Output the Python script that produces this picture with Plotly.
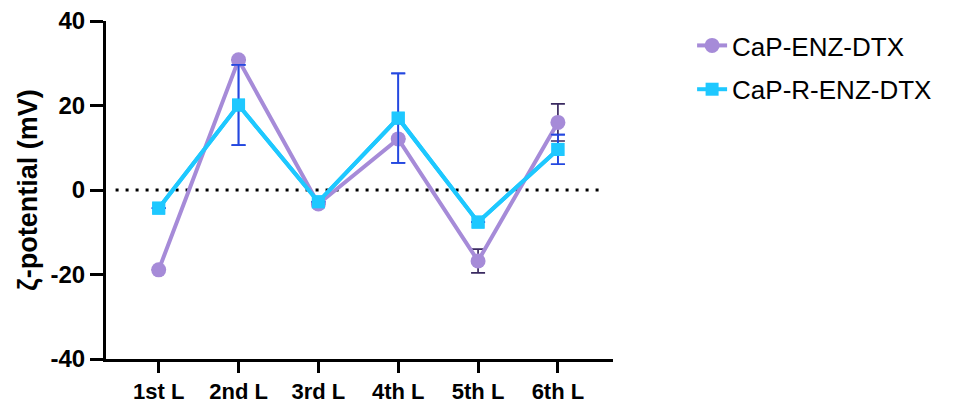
import plotly.graph_objects as go

categories = ["1st L", "2nd L", "3rd L", "4th L", "5th L", "6th L"]
enz_dtx = [-18.9, 30.8, -3.3, 12.1, -16.8, 16.0]
enz_dtx_err = [0, 0, 0, 0, 2.8, 4.4]
r_enz_dtx = [-4.3, 20.1, -2.8, 17.0, -7.6, 9.6]
r_enz_dtx_err = [0, 9.5, 0, 10.6, 0, 3.5]
y_ticks = [-40, -20, 0, 20, 40]
y_ticktext = ["-40", "-20", "0", "20", "40"]

font_fam = "Liberation Sans, Arial, sans-serif"
xs = list(range(len(categories)))

PURPLE = "#a68bd8"
CYAN = "#1ec8ff"

fig = go.Figure()
fig.add_trace(go.Scatter(
    x=xs, y=r_enz_dtx, name="CaP-R-ENZ-DTX", mode="lines+markers",
    line=dict(color=CYAN, width=4),
    marker=dict(symbol="square", size=13, color=CYAN),
    error_y=dict(type="data", array=r_enz_dtx_err, visible=True,
                 color="#2448e0", thickness=1.7, width=7),
    showlegend=False,
))
fig.add_trace(go.Scatter(
    x=xs, y=enz_dtx, name="CaP-ENZ-DTX", mode="lines+markers",
    line=dict(color=PURPLE, width=4),
    marker=dict(symbol="circle", size=15, color=PURPLE),
    error_y=dict(type="data", array=enz_dtx_err, visible=True,
                 color="#3a2a60", thickness=1.7, width=7),
    legendgroup="a",
))
fig.add_trace(go.Scatter(
    x=xs, y=r_enz_dtx, name="CaP-R-ENZ-DTX", mode="lines+markers",
    line=dict(color=CYAN, width=4),
    marker=dict(symbol="square", size=13, color=CYAN),
    hoverinfo="skip",
    error_y=dict(type="data", array=r_enz_dtx_err, visible=True,
                 color="#2448e0", thickness=1.7, width=7),
    legendgroup="b",
))

fig.add_shape(type="line", xref="x", yref="y", x0=-0.54, x1=5.57, y0=0, y1=0,
              line=dict(color="black", width=3, dash="3px,7px"), layer="below")

fig.update_layout(
    width=963, height=403,
    margin=dict(l=106, r=350, t=21, b=44),
    paper_bgcolor="white", plot_bgcolor="white",
    font=dict(family=font_fam, color="black"),
    legend=dict(x=1.156, y=0.997, xanchor="left", yanchor="top",
                font=dict(size=26, family=font_fam),
                traceorder="grouped", tracegroupgap=7,
                bgcolor="rgba(0,0,0,0)"),
)
fig.update_xaxes(
    range=[-0.66, 5.69], tickmode="array", tickvals=xs, ticktext=categories,
    showline=True, linecolor="black", linewidth=3, ticks="outside",
    ticklen=11, tickwidth=3, tickcolor="black", showgrid=False, zeroline=False,
    tickfont=dict(size=22, family=font_fam, weight="bold"), automargin=False,
)
fig.update_yaxes(
    range=[-40, 40], tickmode="array", tickvals=y_ticks, ticktext=y_ticktext,
    showline=True, linecolor="black", linewidth=3, ticks="outside",
    ticklen=13, tickwidth=3, tickcolor="black", showgrid=False, zeroline=False,
    tickfont=dict(size=24, family=font_fam, weight="bold"), automargin=False,
    title=dict(text="ζ-potential (mV)", font=dict(size=27, family=font_fam, weight="bold"), standoff=6),
)

fig.write_html("out.html", config={"displayModeBar": False},
               post_script="document.body.style.margin='0px';document.body.style.overflow='hidden';")
